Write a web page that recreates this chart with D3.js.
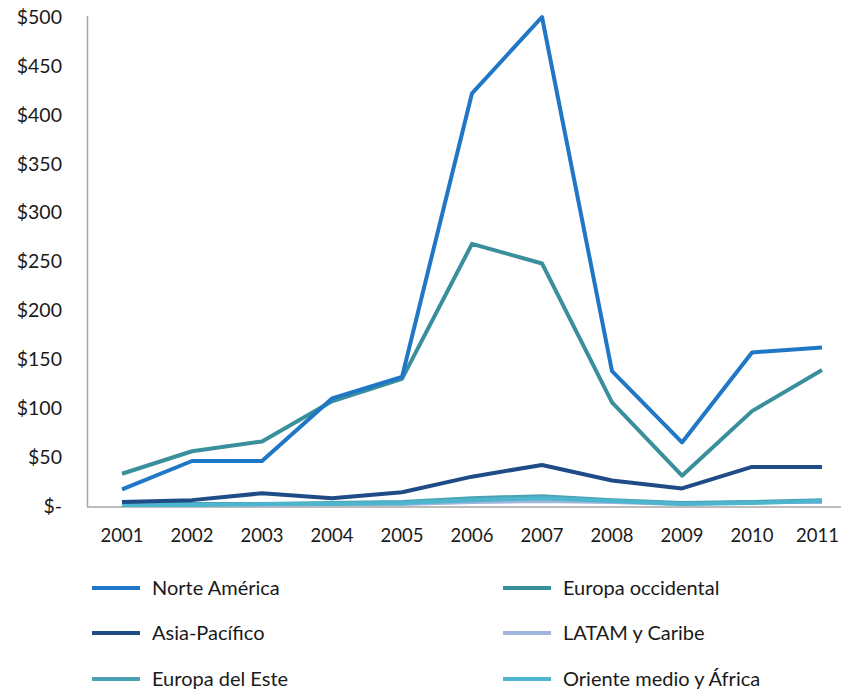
<!DOCTYPE html>
<html><head><meta charset="utf-8">
<script src="https://cdn.jsdelivr.net/npm/d3@7"></script>
<style>body{margin:0;background:#fff;}svg{display:block;font-family:Lato,"Open Sans",sans-serif;}</style>
</head><body><svg id="c" width="841" height="689"></svg>
<script>
const years = ["2001","2002","2003","2004","2005","2006","2007","2008","2009","2010","2011"];
const yTicks = [0,50,100,150,200,250,300,350,400,450,500];
const norteAmerica = [17,46,46,110,132,422,500,138,65,157,162];
const europaOccidental = [33,56,66,107,130,268,248,106,31,97,139];
const asiaPacifico = [4,6,13,8,14,30,42,26,18,40,40];
const latam = [1,1,1,2,2,4,5,4,2,4,4];
const europaEste = [2,2,2,3,4,8,10,6,3,4,6];
const orienteMedio = [1,1,2,2,3,6,8,5,2,3,5];
const seriesNames = ["Norte América","Europa occidental","Asia-Pacífico","LATAM y Caribe","Europa del Este","Oriente medio y África"];
const seriesColors = ["#1f77c6","#3a8f9c","#1f4b86","#9fb6dc","#4aa2b4","#4db5cd"];
const seriesValues = [norteAmerica,europaOccidental,asiaPacifico,latam,europaEste,orienteMedio];

const svg = d3.select("#c");
const x = d3.scalePoint().domain(years).range([122,822]);
const y = d3.scaleLinear().domain([0,500]).range([506,17]);

svg.append("line").attr("x1",87.5).attr("x2",87.5).attr("y1",16).attr("y2",507).attr("stroke","#a6a6a6").attr("stroke-width",1.5);
svg.append("line").attr("x1",87).attr("x2",841).attr("y1",507).attr("y2",507).attr("stroke","#a6a6a6").attr("stroke-width",1.5);

svg.append("g").selectAll("text").data(yTicks).join("text")
  .attr("x",62).attr("y",d=>y(d)).attr("dy","0.35em").attr("text-anchor","end")
  .attr("font-size",19.5).attr("fill","#1a1a1a")
  .text(d=>d===0?"$-":"$"+d);

const xl = svg.append("g").selectAll("text").data(years).join("text")
  .attr("x",d=>x(d)).attr("y",536).attr("dy","0.35em").attr("text-anchor","middle")
  .attr("font-size",18.5).attr("fill","#1a1a1a").text(d=>d);
// keep the last label inside the page
xl.each(function(){
  const b = this.getBBox();
  if (b.x + b.width > 839) {
    d3.select(this).attr("text-anchor","end").attr("x",839);
  }
});

const line = d3.line().x((d,i)=>x(years[i])).y(d=>y(d));
const order = [3,4,5,2,1,0];
order.forEach(k=>{
  svg.append("path").datum(seriesValues[k]).attr("d",line)
    .attr("fill","none").attr("stroke",seriesColors[k]).attr("stroke-width",4)
    .attr("stroke-linejoin","round");
});

const legX = [92,503], legY = [588,633,679];
seriesNames.forEach((n,i)=>{
  const cx = legX[i%2], cy = legY[Math.floor(i/2)];
  svg.append("line").attr("x1",cx).attr("x2",cx+48).attr("y1",cy).attr("y2",cy)
    .attr("stroke",seriesColors[i]).attr("stroke-width",4);
  svg.append("text").attr("x",cx+60).attr("y",cy).attr("dy","0.35em")
    .attr("font-size",20).attr("fill","#1a1a1a").text(n);
});
</script></body></html>
